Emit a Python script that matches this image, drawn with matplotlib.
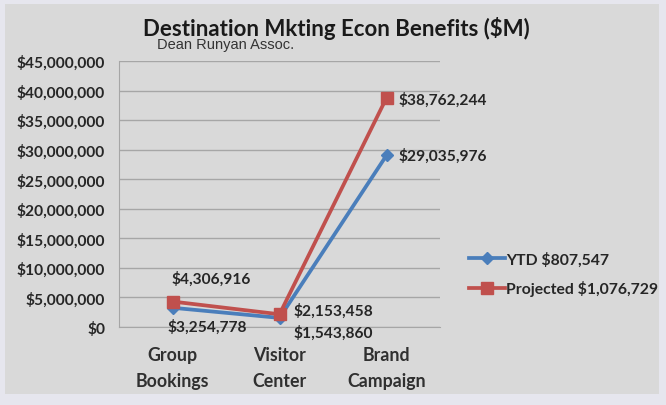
import matplotlib
matplotlib.use("Agg")
import matplotlib.pyplot as plt
from matplotlib.patches import Rectangle
from matplotlib.ticker import FuncFormatter

categories = ["Group\nBookings", "Visitor\nCenter", "Brand\nCampaign"]
ytd = [3254778, 1543860, 29035976]
projected = [4306916, 2153458, 38762244]
ytd_label = "YTD $807,547"
proj_label = "Projected $1,076,729"
yticks = list(range(0, 45000001, 5000000))

FONT = ["Lato", "DejaVu Sans"]
plt.rcParams['font.family'] = FONT

fig = plt.figure(figsize=(6.66, 4.06), dpi=100, facecolor="#e6e6ee")
W, H = 666, 406
fig.patches.append(Rectangle((5 / W, 11 / H), 654 / W, 390 / H, transform=fig.transFigure,
                             facecolor="#d9d9d9", edgecolor="none", zorder=-10))

ax = fig.add_axes([119 / W, (406 - 328) / H, 321 / W, 266 / H])
ax.set_facecolor("none")
x = [0, 1, 2]
blue = "#4a7ebb"
red = "#c0504d"
ax.plot(x, ytd, color=blue, lw=2.7, marker="D", ms=6, label=ytd_label, zorder=3, clip_on=False)
ax.plot(x, projected, color=red, lw=2.7, marker="s", ms=9, label=proj_label, zorder=4, clip_on=False)

ax.set_xlim(-0.5, 2.5)
ax.set_ylim(0, 45000000)
ax.set_yticks(yticks)
ax.yaxis.set_major_formatter(FuncFormatter(lambda v, p: "${:,.0f}".format(v)))
ax.grid(axis="y", color="#a6a6a6", lw=1)
ax.set_axisbelow(True)
for s in ["top", "right"]:
    ax.spines[s].set_visible(False)
ax.spines["left"].set_color("#a6a6a6")
ax.spines["bottom"].set_color("#a6a6a6")
ax.tick_params(axis="y", length=0, pad=10, labelsize=11.2, labelcolor="#262626")
ax.tick_params(axis="x", length=0, pad=14, labelsize=12.8, labelcolor="#303030")
for t in ax.get_yticklabels():
    t.set_fontweight("bold")
ax.set_xticks(x)
ax.set_xticklabels(categories, linespacing=1.6)
for t in ax.get_xticklabels():
    t.set_fontweight("bold")

lab = dict(fontsize=11.2, color="#262626", fontweight="bold")
# Projected labels
ax.annotate("${:,}".format(projected[0]), (x[0], projected[0]), xytext=(28, 17),
            textcoords="offset points", ha="center", va="center", **lab)
ax.annotate("${:,}".format(projected[1]), (x[1], projected[1]), xytext=(10, 3),
            textcoords="offset points", ha="left", va="center", **lab)
ax.annotate("${:,}".format(projected[2]), (x[2], projected[2]), xytext=(9, -1),
            textcoords="offset points", ha="left", va="center", **lab)
# YTD labels
ax.annotate("${:,}".format(ytd[0]), (x[0], ytd[0]), xytext=(25, -13),
            textcoords="offset points", ha="center", va="center", **lab)
ax.annotate("${:,}".format(ytd[1]), (x[1], ytd[1]), xytext=(10, -10),
            textcoords="offset points", ha="left", va="center", **lab)
ax.annotate("${:,}".format(ytd[2]), (x[2], ytd[2]), xytext=(9, 0),
            textcoords="offset points", ha="left", va="center", **lab)

leg = fig.legend(loc="upper left", bbox_to_anchor=(455 / W, 1 - 238 / H),
                 frameon=False, handlelength=2.3, handletextpad=0.05,
                 labelspacing=0.9, prop={"size": 11.3, "weight": "bold"})
for t in leg.get_texts():
    t.set_color("#262626")

fig.text(336 / W, 1 - 28 / H, "Destination Mkting Econ Benefits ($M)", ha="center",
         va="center", fontsize=16, fontweight="bold", color="#1a1a1a")
fig.text(157 / W, 1 - 45 / H, "Dean Runyan Assoc.", ha="left", va="center",
         fontsize=10.5, color="#333333", family=["Liberation Sans", "DejaVu Sans"])

fig.savefig("out.png", dpi=100, facecolor=fig.get_facecolor())
